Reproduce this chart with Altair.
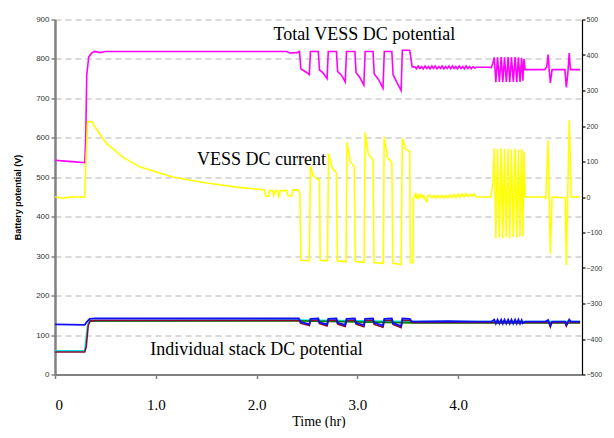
import altair as alt
import pandas as pd

# ---------------- data (time in hours) ----------------
X_TICKS = [0, 1, 2, 3, 4]
LEFT_TICKS = [0, 100, 200, 300, 400, 500, 600, 700, 800, 900]
RIGHT_TICKS = [-500, -400, -300, -200, -100, 0, 100, 200, 300, 400, 500]

# Total VESS DC potential (V)
TOTAL_POTENTIAL = [
    (0.000, 543), (0.100, 541), (0.200, 539), (0.295, 537), (0.305, 600), (0.315, 760),
    (0.335, 805), (0.360, 814), (0.390, 819), (0.450, 816), (0.500, 819), (2.300, 819),
    (2.330, 815), (2.400, 816), (2.426, 819),
    (2.440, 775), (2.470, 770), (2.500, 765), (2.524, 760), (2.535, 819), (2.613, 819),
    (2.625, 772), (2.660, 765), (2.700, 750), (2.712, 819), (2.793, 819),
    (2.805, 768), (2.840, 760), (2.880, 742), (2.893, 819), (2.976, 819),
    (2.988, 765), (3.020, 755), (3.065, 734), (3.078, 819), (3.156, 819),
    (3.168, 762), (3.210, 748), (3.255, 726), (3.268, 819), (3.343, 819),
    (3.355, 760), (3.390, 742), (3.435, 720), (3.447, 822), (3.520, 822), (3.545, 780),
    (3.570, 780), (3.587, 775), (3.604, 782), (3.621, 776), (3.638, 781), (3.655, 775),
    (3.672, 782), (3.689, 776), (3.706, 781), (3.723, 775), (3.740, 782), (3.757, 776),
    (3.774, 782), (3.791, 775), (3.808, 781), (3.825, 776), (3.842, 782), (3.859, 775),
    (3.876, 781), (3.893, 776), (3.910, 782), (3.927, 775), (3.944, 782), (3.961, 776),
    (3.978, 781), (3.995, 775), (4.012, 782), (4.029, 776), (4.046, 781), (4.063, 775),
    (4.080, 782), (4.097, 776), (4.114, 781), (4.131, 775), (4.148, 780), (4.165, 777),
    (4.180, 779), (4.300, 779), (4.330, 778), (4.346, 790),
    (4.359, 804), (4.375, 741), (4.392, 804), (4.410, 742), (4.428, 805), (4.444, 741),
    (4.461, 804), (4.479, 742), (4.497, 805), (4.513, 741), (4.530, 804), (4.548, 742),
    (4.566, 805), (4.582, 741), (4.599, 804), (4.615, 742), (4.631, 803), (4.643, 745),
    (4.654, 800), (4.665, 773), (4.860, 773), (4.880, 780), (4.894, 811), (4.905, 770),
    (4.916, 739), (4.933, 773), (5.060, 773), (5.075, 728), (5.090, 765), (5.103, 815),
    (5.115, 773), (5.211, 773),
]

# VESS DC current (A), right axis
DC_CURRENT = [
    (0.000, 0), (0.050, -2), (0.080, -4), (0.120, -1), (0.200, 0), (0.295, 0),
    (0.310, 120), (0.325, 212), (0.370, 212), (0.390, 200), (0.510, 151), (0.670, 113),
    (0.840, 85), (1.000, 71), (1.160, 57), (1.330, 48), (1.490, 40), (1.650, 34),
    (1.820, 27), (2.020, 22), (2.080, 20), (2.090, 2), (2.120, 2), (2.130, 18),
    (2.160, 18), (2.170, 4), (2.190, 18), (2.210, 18), (2.220, 2), (2.240, 18),
    (2.300, 18), (2.310, 4), (2.350, 3), (2.360, 20), (2.410, 20), (2.430, 12),
    (2.441, -178), (2.524, -180), (2.535, 88), (2.560, 62), (2.600, 50), (2.625, 48),
    (2.632, -178), (2.704, -180), (2.715, 123), (2.750, 82), (2.793, 68),
    (2.802, -180), (2.888, -182), (2.898, 153), (2.930, 100), (2.970, 85),
    (2.980, -182), (3.068, -184), (3.078, 182), (3.110, 120), (3.156, 104),
    (3.166, -185), (3.258, -187), (3.267, 170), (3.300, 110), (3.343, 98),
    (3.353, -187), (3.435, -190), (3.447, 165), (3.480, 135), (3.520, 128),
    (3.527, -185), (3.552, -185), (3.557, -4),
    (3.575, 8), (3.590, -6), (3.600, 10), (3.615, -3), (3.630, 6), (3.645, -2),
    (3.660, 5), (3.675, -8), (3.690, -13), (3.700, 2), (3.720, 5), (3.740, -2),
    (3.760, 4), (3.780, -3), (3.800, 5), (3.820, -2), (3.840, 4), (3.860, -3),
    (3.880, 5), (3.900, -2), (3.920, 6), (3.940, -1), (3.960, 7), (3.980, -2),
    (4.000, 8), (4.020, -1), (4.040, 9), (4.060, 0), (4.080, 10), (4.100, 1),
    (4.120, 8), (4.140, 2), (4.160, 9), (4.180, 0), (4.326, 0), (4.346, 40),
    (4.359, 137), (4.375, -116), (4.392, 135), (4.410, -114), (4.428, 137), (4.444, -116),
    (4.461, 135), (4.479, -113), (4.497, 136), (4.513, -116), (4.530, 134), (4.548, -112),
    (4.566, 136), (4.582, -115), (4.599, 133), (4.615, -112), (4.631, 135), (4.643, -110),
    (4.654, 128), (4.665, 0), (4.860, 0), (4.870, -4), (4.894, 160), (4.916, -159),
    (4.933, 0), (5.064, -2), (5.075, -192), (5.103, 217), (5.123, 0), (5.211, 0),
]

# Individual stack DC potentials (V)
STACK_BLUE = [
    (0.000, 127), (0.295, 126), (0.320, 135), (0.345, 141), (0.400, 142), (2.420, 142),
    (2.440, 133), (2.500, 129), (2.524, 127), (2.535, 141), (2.613, 142),
    (2.625, 132), (2.700, 127), (2.712, 141), (2.793, 142),
    (2.805, 131), (2.880, 126), (2.893, 141), (2.976, 142),
    (2.988, 131), (3.065, 125), (3.078, 141), (3.156, 142),
    (3.168, 131), (3.255, 124), (3.268, 141), (3.343, 142),
    (3.355, 130), (3.435, 123), (3.447, 142), (3.520, 141), (3.545, 134),
    (3.900, 135), (4.180, 134), (4.330, 134),
    (4.359, 139), (4.375, 129), (4.392, 139), (4.410, 129), (4.428, 139), (4.444, 129),
    (4.461, 139), (4.479, 129), (4.497, 139), (4.513, 129), (4.530, 139), (4.548, 129),
    (4.566, 139), (4.582, 129), (4.599, 139), (4.615, 129), (4.631, 138), (4.643, 130),
    (4.665, 134), (4.867, 134), (4.894, 138), (4.916, 124), (4.933, 134), (5.064, 134),
    (5.075, 126), (5.103, 139), (5.120, 134), (5.211, 134),
]
STACK_RED = [
    (0.000, 57), (0.295, 57), (0.310, 70), (0.330, 125), (0.350, 135), (0.400, 137),
    (2.420, 137), (2.440, 130), (2.524, 124), (2.535, 137), (2.613, 137),
    (2.625, 129), (2.700, 123), (2.712, 137), (2.793, 137),
    (2.805, 128), (2.880, 122), (2.893, 137), (2.976, 137),
    (2.988, 128), (3.065, 121), (3.078, 137), (3.156, 137),
    (3.168, 127), (3.255, 120), (3.268, 137), (3.343, 137),
    (3.355, 127), (3.435, 119), (3.447, 137), (3.520, 137), (3.545, 132),
    (4.330, 132), (4.665, 132), (4.900, 132), (4.916, 121), (4.930, 132),
    (5.060, 132), (5.075, 123), (5.090, 132), (5.211, 132),
]
STACK_CYAN = [
    (0.000, 60), (0.295, 60), (0.320, 120), (0.340, 136), (2.420, 138),
    (3.545, 134), (5.211, 134),
]
STACK_GREEN = [
    (0.340, 136), (2.420, 136), (3.545, 131), (4.330, 131), (4.665, 131), (5.211, 131),
]

SERIES_COLORS = {
    "cyan": "#00e5e5",
    "green": "#008000",
    "red": "#8b0a2a",
    "blue": "#1010ee",
    "magenta": "#ff00ff",
    "yellow": "#ffff00",
}

ANNOTATIONS = [
    ("Total VESS DC potential", 3.07, 861),
    ("VESS DC current", 2.05, 545),
    ("Individual stack DC potential", 2.0, 62),
]


def frame(points, ycol):
    return pd.DataFrame({"t": [p[0] for p in points], ycol: [p[1] for p in points]})


# ---------------- encodings ----------------
x_enc = alt.X(
    "t:Q",
    scale=alt.Scale(domain=[0, 5.23], nice=False, zero=False),
    axis=alt.Axis(
        values=X_TICKS,
        labelExpr="datum.value == 0 ? '0' : format(datum.value, '.1f')",
        title="Time (hr)",
        grid=False,
        domainColor="#808080",
        domainWidth=2,
        tickColor="#808080",
        tickWidth=1.5,
        tickSize=4,
        labelFont="Liberation Serif",
        labelFontSize=15,
        labelColor="#000000",
        labelPadding=19,
        titleFont="Liberation Serif",
        titleFontSize=14,
        titleFontWeight="normal",
        titleColor="#000000",
        titlePadding=2,
    ),
)

left_axis = alt.Axis(
    values=LEFT_TICKS,
    title="Battery potential (V)",
    grid=True,
    gridDash=[6, 4],
    gridColor="#b4b4b4",
    gridWidth=1,
    domainColor="#808080",
    domainWidth=2.5,
    tickColor="#808080",
    tickWidth=1.5,
    tickSize=4,
    labelFont="Liberation Sans",
    labelFontSize=8,
    labelColor="#333333",
    labelPadding=2,
    titleFont="Liberation Sans",
    titleFontSize=9,
    titleFontWeight="bold",
    titleColor="#000000",
    titlePadding=13,
)
left_scale = alt.Scale(domain=[0, 900], nice=False, zero=False)

right_axis = alt.Axis(
    orient="right",
    values=RIGHT_TICKS,
    title=None,
    grid=False,
    domainColor="#000000",
    domainWidth=1.2,
    tickColor="#000000",
    tickWidth=1.2,
    tickSize=3,
    labelFont="Liberation Sans",
    labelFontSize=7,
    labelColor="#333333",
    labelPadding=1,
)
right_scale = alt.Scale(domain=[-500, 500], nice=False, zero=False)


def left_line(points, color, width=1.6):
    return (
        alt.Chart(frame(points, "v"))
        .mark_line(color=color, strokeWidth=width, clip=True)
        .encode(x=x_enc, y=alt.Y("v:Q", scale=left_scale, axis=left_axis))
    )


ann_df = pd.DataFrame(
    {
        "label": [a[0] for a in ANNOTATIONS],
        "t": [a[1] for a in ANNOTATIONS],
        "v": [a[2] for a in ANNOTATIONS],
    }
)
annotations = (
    alt.Chart(ann_df)
    .mark_text(font="Liberation Serif", fontSize=18, color="#000000", align="center", baseline="middle")
    .encode(x=x_enc, y=alt.Y("v:Q", scale=left_scale, axis=left_axis), text="label:N")
)

left_group = alt.layer(
    left_line(STACK_CYAN, SERIES_COLORS["cyan"]),
    left_line(STACK_GREEN, SERIES_COLORS["green"]),
    left_line(STACK_RED, SERIES_COLORS["red"]),
    left_line(STACK_BLUE, SERIES_COLORS["blue"], 1.8),
    left_line(TOTAL_POTENTIAL, SERIES_COLORS["magenta"]),
    annotations,
)

current_line = (
    alt.Chart(frame(DC_CURRENT, "i"))
    .mark_line(color=SERIES_COLORS["yellow"], strokeWidth=1.6, clip=True)
    .encode(x=x_enc, y=alt.Y("i:Q", scale=right_scale, axis=right_axis))
)

chart = (
    alt.layer(left_group, current_line)
    .resolve_scale(y="independent")
    .properties(
        width=527,
        height=355,
        autosize=alt.AutoSizeParams(type="none"),
        padding={"left": 47, "top": 11.5, "right": 24, "bottom": 53},
        background="#ffffff",
    )
    .configure_view(stroke="transparent")
)

chart.save("out.html", embed_options={"renderer": "svg", "actions": False})
